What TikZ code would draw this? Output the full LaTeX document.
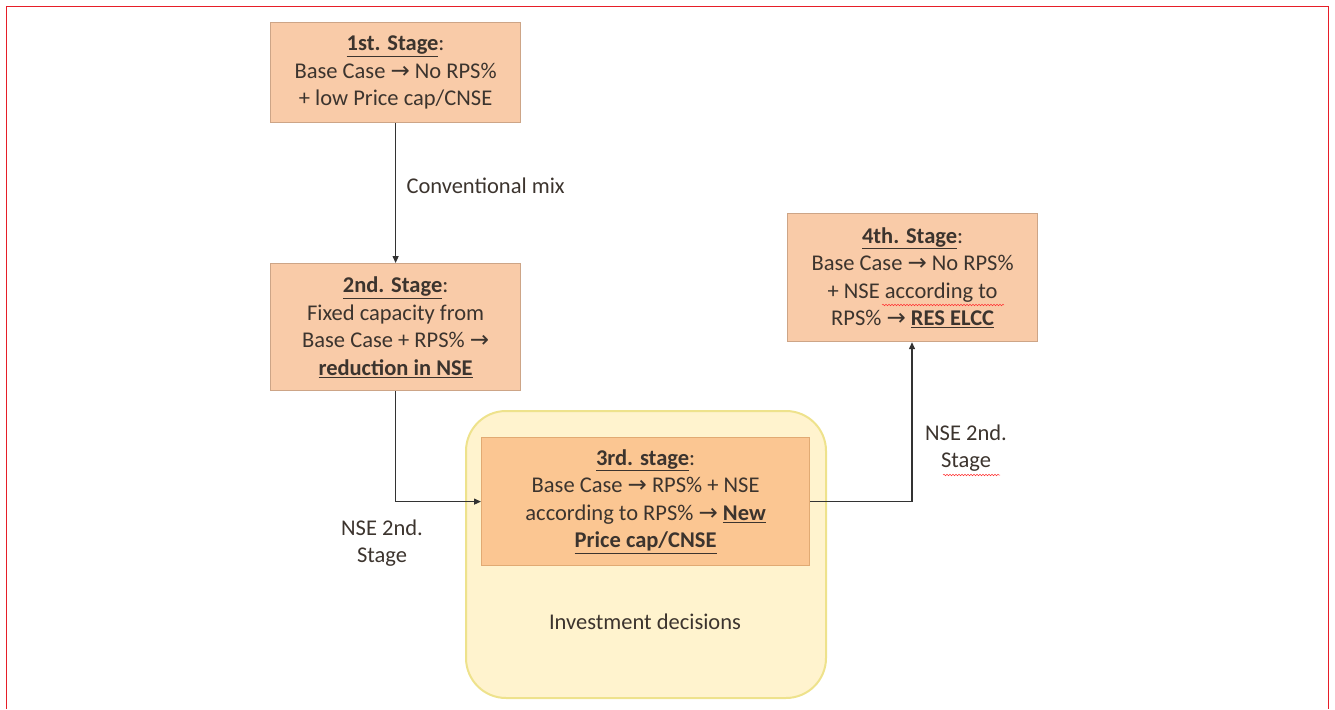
\documentclass[tikz,border=0pt]{standalone}
\usepackage{fontspec}
\setmainfont{Carlito}
\newfontfamily\arrowfont{DejaVu Sans}
\usetikzlibrary{arrows.meta,decorations.pathmorphing}
\definecolor{boxfill}{RGB}{249,203,168}
\definecolor{boxline}{RGB}{205,165,135}
\definecolor{thirdfill}{RGB}{251,198,146}
\definecolor{thirdline}{RGB}{225,170,115}
\definecolor{yelfill}{RGB}{255,243,206}
\definecolor{yelline}{RGB}{238,226,140}
\definecolor{txt}{RGB}{60,52,46}
\definecolor{frame}{RGB}{230,30,40}
\newcommand{\ar}{{\arrowfont\fontsize{23}{20}\selectfont →}}
\newcommand{\ul}[1]{\underline{#1}}
\begin{document}
\begin{tikzpicture}[x=1pt,y=-1pt,
  every node/.style={font=\fontsize{22.5}{27.5}\selectfont, text=txt, align=center},
  stagebox/.style={draw=boxline, fill=boxfill, line width=1.2pt, inner sep=0pt, anchor=north west},
  conn/.style={draw=black!80, line width=1.3pt, -{Triangle[length=7pt,width=6pt]}},
  spell/.style={draw=red!80, line width=0.5pt, decorate, decoration={snake, amplitude=0.8pt, segment length=3pt}}
]
\useasboundingbox (0,0) rectangle (1335,709);
% red frame (open at bottom)
\draw[frame, line width=1.5pt] (6.5,709) -- (6.5,6.5) -- (1328.5,6.5) -- (1328.5,709);

% group
\node[draw=yelline, fill=yelfill, line width=2pt, rounded corners=40pt, minimum width=360pt, minimum height=287pt, anchor=north west, inner sep=0pt] (grp) at (465,410) {};

% stages
\node[stagebox, minimum width=250pt, minimum height=100pt] (s1) at (270,22) {};
\node at (s1.center) {\ul{\textbf{1st. Stage}}:\\Base Case \ar{} No RPS\%\\+ low Price cap/CNSE};

\node[stagebox, minimum width=250pt, minimum height=127pt] (s2) at (270,263) {};
\node at (s2.center) {\ul{\textbf{2nd. Stage}}:\\Fixed capacity from\\Base Case + RPS\% \ar\\\ul{\textbf{reduction in NSE}}};

\node[stagebox, draw=thirdline, fill=thirdfill, minimum width=328pt, minimum height=128pt] (s3) at (481,437) {};
\node at (s3.center) {\ul{\textbf{3rd. stage}}:\\Base Case \ar{} RPS\% + NSE\\according to RPS\% \ar{} \ul{\textbf{New}}\\\ul{\textbf{Price cap/CNSE}}};

\node[stagebox, minimum width=250pt, minimum height=128pt] (s4) at (787,213) {};
\node (s4t) at (s4.center) {\ul{\textbf{4th. Stage}}:\\Base Case \ar{} No RPS\%\\+ NSE according to\\RPS\% \ar{} \ul{\textbf{RES ELCC}}};

\node (inv) at (645,622) {Investment decisions};

% connectors
\draw[conn] (s1.south) -- (s2.north);
\node[anchor=west] (conv) at (403,186) {Conventional mix};

\coordinate (b1) at (s2.south |- s3.west);
\draw[conn] (s2.south) -- (b1) -- (s3.west);
\node (lab1) at (382,543) {NSE 2nd.\\Stage};

\coordinate (b3) at (912,0 |- s3.east);
\coordinate (b4) at (912,0 |- s4.south);
\draw[conn] (s3.east) -- (b3) -- (b4);
\node (lab2) at (966,448) {NSE 2nd.\\Stage};

% spell-check underlines
\draw[spell] (943,475) -- (1000,475);
\draw[spell] (882,305) -- (1004,305);
\end{tikzpicture}
\end{document}
